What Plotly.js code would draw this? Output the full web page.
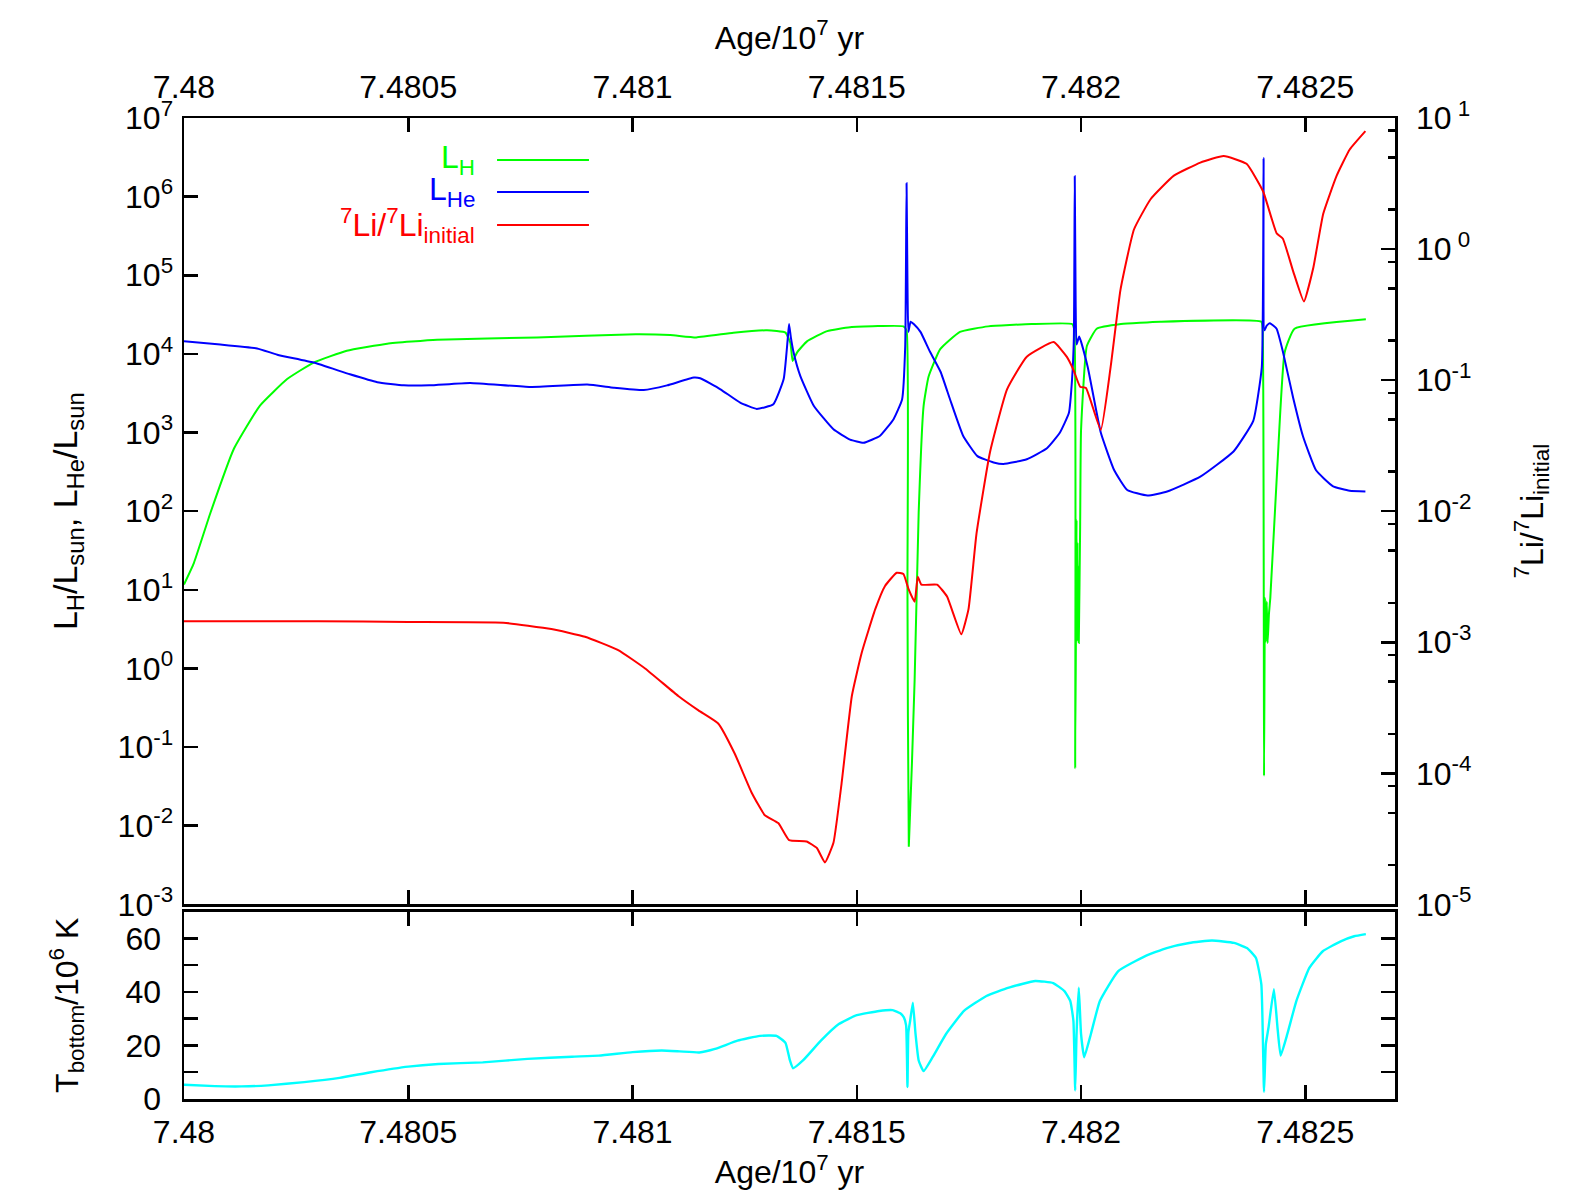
<!DOCTYPE html>
<html>
<head>
<meta charset="utf-8">
<script src="https://cdn.plot.ly/plotly-3.0.1.min.js"></script>
<style>html,body{margin:0;padding:0;background:#fff;}#chart{width:1581px;height:1190px;}</style>
</head>
<body>
<div id="chart"></div>
<script>
// ---- Data (age in 10^7 yr) ----
const ageLH = [7.48,7.480022,7.480059,7.480111,7.480169,7.48023,7.480289,7.480363,7.480453,7.480564,7.480787,7.481007,7.481084,7.481142,7.481225,7.4813,7.481341,7.481352,7.481357,7.481367,7.481389,7.481434,7.481485,7.481604,7.481611,7.481613,7.481616,7.481629,7.481638,7.481649,7.48166,7.481686,7.48173,7.481793,7.48189,7.48198,7.481985,7.481987,7.48199,7.481991,7.481992,7.481993,7.481994,7.481995,7.481998,7.482,7.482013,7.482035,7.482089,7.482177,7.482402,7.482405,7.482408,7.48241,7.482412,7.482414,7.482416,7.482419,7.482422,7.482438,7.482454,7.482476,7.482635];
const lumH = [11.7,21.9,95.5,617,2190,4790,7760,10960,13490,15140,16220,17780,17380,16220,18620,19950,18620,13800,8130,10470,14450,19500,21880,22390,19950,10,0.0054,0.72,95.5,2190,5130,11480,19050,22390,23990,23990,19950,0.054,77.6,2.5,40,2.2,20,2.1,63,1070,12590,20890,23990,25700,25700,19950,0.043,7.9,2.2,7.1,2.1,5,7.9,400,10470,20890,27540];

const ageLHe = [7.48,7.480081,7.480163,7.480208,7.480289,7.48037,7.480431,7.48049,7.480547,7.480638,7.480772,7.480899,7.480958,7.481025,7.481077,7.481137,7.481151,7.481196,7.48124,7.481277,7.481314,7.481337,7.481346,7.481349,7.481353,7.481359,7.481374,7.481404,7.481448,7.481485,7.481515,7.481552,7.481582,7.481601,7.481608,7.481611,7.481613,7.481615,7.48162,7.481627,7.481642,7.481663,7.481687,7.481708,7.481737,7.481769,7.481805,7.481827,7.481879,7.481924,7.481953,7.481973,7.48198,7.481984,7.481986,7.481988,7.48199,7.481996,7.482015,7.482044,7.482074,7.482103,7.482148,7.482192,7.482266,7.48234,7.482384,7.482403,7.482407,7.482409,7.482414,7.482421,7.482436,7.48245,7.482473,7.482495,7.482524,7.482561,7.482599,7.482634];
const lumHe = [14450,13180,11750,9770,7760,5500,4370,3980,3980,4270,3800,4070,3720,3470,3980,5010,4900,3550,2400,2000,2290,4790,15490,23990,16220,10470,5250,2190,1100,813,741,912,1480,2630,12590,1480000,83200,19050,25700,23990,19050,10720,5890,2630,912,501,417,398,457,631,1000,1780,4790,15850,1820000,45700,13180,16600,6760,1000,331,186,158,178,275,575,1410,6760,3090000,19950,22900,24550,20890,10720,2750,891,331,209,182,178];

const ageLi = [7.48,7.4803,7.4805,7.480712,7.480819,7.480894,7.480968,7.481028,7.481102,7.481147,7.481191,7.481228,7.481266,7.481295,7.481325,7.481349,7.481388,7.481411,7.481429,7.481448,7.481466,7.481489,7.481511,7.481541,7.481563,7.481589,7.481604,7.481615,7.481629,7.481636,7.481644,7.481679,7.481701,7.481733,7.481749,7.481767,7.481797,7.481835,7.481879,7.481939,7.481968,7.481983,7.481998,7.482011,7.482044,7.482066,7.482088,7.482118,7.482155,7.482207,7.482266,7.482318,7.482369,7.482406,7.482436,7.48245,7.482473,7.482497,7.482518,7.48254,7.48257,7.482599,7.482634];
const li7 = [1.445e-3,1.445e-3,1.43e-3,1.41e-3,1.26e-3,1.10e-3,8.71e-4,6.31e-4,3.89e-4,3.02e-4,2.40e-4,1.41e-4,7.08e-5,4.79e-5,4.17e-5,3.09e-5,3.02e-5,2.69e-5,2.09e-5,2.95e-5,8.32e-5,3.89e-4,8.32e-4,1.78e-3,2.69e-3,3.39e-3,3.31e-3,2.57e-3,2.04e-3,3.16e-3,2.75e-3,2.75e-3,2.24e-3,1.15e-3,1.78e-3,6.76e-3,0.0282,0.0851,0.151,0.195,0.151,0.120,0.0891,0.0871,0.0417,0.126,0.490,1.41,2.40,3.63,4.57,5.13,4.47,2.75,1.32,1.20,0.676,0.398,0.724,1.86,3.63,5.75,7.94];

const ageT = [7.48,7.480069,7.480128,7.480188,7.480268,7.480347,7.480417,7.4805,7.480567,7.480666,7.480766,7.480865,7.480925,7.481,7.481065,7.481105,7.481149,7.481184,7.481234,7.481284,7.481321,7.481341,7.481351,7.481358,7.48138,7.48142,7.48146,7.4815,7.48155,7.48158,7.481597,7.481605,7.48161,7.481613,7.481615,7.481619,7.481625,7.481631,7.481638,7.481649,7.481669,7.481699,7.481739,7.481789,7.481839,7.481898,7.481938,7.481963,7.481976,7.481983,7.481987,7.48199,7.481995,7.482,7.482007,7.482022,7.482042,7.482083,7.482142,7.482191,7.482241,7.482292,7.482341,7.48237,7.48239,7.482402,7.482408,7.482412,7.482418,7.48243,7.482438,7.482445,7.48246,7.48248,7.482509,7.482539,7.482579,7.482609,7.482635];
const tBottom = [5.3,4.8,4.7,5.1,6.3,7.9,10.0,12.1,13.1,13.7,15.0,15.8,16.2,17.5,18.1,17.8,17.4,18.7,21.8,23.6,23.6,21.0,14.4,11.5,14.4,21.8,28.0,31.3,32.9,33.2,32.0,30.5,27.5,4.5,24.9,29.2,36.0,24.3,14.4,10.4,15.6,24.3,32.9,38.5,41.6,44.1,43.3,40.3,36.6,29.2,3.2,24.3,41.6,24.3,15.6,24.3,36.6,47.8,53.3,56.4,58.3,59.2,58.3,56.4,52.7,42.8,2.6,20.5,26.7,41.0,26.7,16.2,24.3,36.6,49.0,55.2,58.9,60.8,61.6];

// ---- Ticks ----
const xTickVals = [7.48,7.4805,7.481,7.4815,7.482,7.4825];
const xTickText = ["7.48","7.4805","7.481","7.4815","7.482","7.4825"];
const lumTickVals = [1e-3,1e-2,1e-1,1,10,100,1e3,1e4,1e5,1e6,1e7];
const lumTickText = ["10<sup>-3</sup>","10<sup>-2</sup>","10<sup>-1</sup>","10<sup>0</sup>","10<sup>1</sup>","10<sup>2</sup>","10<sup>3</sup>","10<sup>4</sup>","10<sup>5</sup>","10<sup>6</sup>","10<sup>7</sup>"];
const liTickVals = [1e-5,1e-4,1e-3,1e-2,1e-1,1,10];
const liTickText = ["10<sup>-5</sup>","10<sup>-4</sup>","10<sup>-3</sup>","10<sup>-2</sup>","10<sup>-1</sup>","10<sup> 0</sup>","10<sup> 1</sup>"];
const liMinorVals = [2e-5,5e-5,8e-5,2e-4,5e-4,8e-4,2e-3,5e-3,8e-3,2e-2,5e-2,8e-2,0.2,0.5,0.8,2,5,8];
const tTickVals = [0,20,40,60];
const tTickText = ["0","20","40","60"];

// ---- Plot ----
const FONT = "Liberation Sans, Arial, Helvetica, sans-serif";
const fs = 32;
const axBase = {
  showline:true, linecolor:'#000', linewidth:2.5,
  ticks:'inside', ticklen:14, tickwidth:2.5, tickcolor:'#000',
  showgrid:false, zeroline:false,
  tickfont:{family:FONT,size:fs,color:'#000'}
};
const smooth = {shape:'spline', smoothing:0.4};

const traces = [
  {x:ageLH, y:lumH, xaxis:'x2', yaxis:'y', type:'scatter', mode:'lines', line:Object.assign({color:'#00ff00',width:2}, smooth), name:'L_H'},
  {x:ageLHe, y:lumHe, xaxis:'x2', yaxis:'y', type:'scatter', mode:'lines', line:Object.assign({color:'#0000ff',width:2}, smooth), name:'L_He'},
  {x:ageLi, y:li7, xaxis:'x2', yaxis:'y2', type:'scatter', mode:'lines', line:Object.assign({color:'#ff0000',width:2}, smooth), name:'Li'},
  {x:ageT, y:tBottom, xaxis:'x', yaxis:'y3', type:'scatter', mode:'lines', line:Object.assign({color:'#00ffff',width:2.4}, smooth), name:'T'}
];

const xRange = [7.48, 7.4827];
const legY = [0.9572, 0.9246, 0.8909];
const legColors = ['#00ff00','#0000ff','#ff0000'];
const legTexts = ['L<sub>H</sub>','L<sub>He</sub>','<sup>7</sup>Li/<sup>7</sup>Li<sub>initial</sub>'];

const layout = {
  width:1581, height:1190,
  margin:{l:184, r:186, t:118, b:91, autoexpand:false},
  paper_bgcolor:'#fff', plot_bgcolor:'rgba(0,0,0,0)',
  showlegend:false,
  font:{family:FONT, size:fs, color:'#000'},
  xaxis: Object.assign({}, axBase, {
    anchor:'y3', domain:[0,1], range:xRange, tickmode:'array', tickvals:xTickVals, ticktext:xTickText,
    mirror:'ticks', ticklabelstandoff:3,
    title:{text:'Age/10<sup>7</sup> yr', font:{family:FONT,size:fs,color:'#000'}, standoff:46}
  }),
  xaxis2: Object.assign({}, axBase, {
    anchor:'y', side:'top', domain:[0,1], range:xRange, tickmode:'array', tickvals:xTickVals, ticktext:xTickText,
    mirror:'ticks', ticklabelstandoff:5,
    title:{text:'Age/10<sup>7</sup> yr', font:{family:FONT,size:fs,color:'#000'}, standoff:10}
  }),
  yaxis: Object.assign({}, axBase, {
    anchor:'x2', domain:[0.1984,1], type:'log', range:[-3,7], tickmode:'array', tickvals:lumTickVals, ticktext:lumTickText,
    mirror:false, ticklabelstandoff:2,
    title:{text:'L<sub>H</sub>/L<sub>sun</sub>, L<sub>He</sub>/L<sub>sun</sub>', font:{family:FONT,size:34,color:'#000'}, standoff:30}
  }),
  yaxis2: Object.assign({}, axBase, {
    anchor:'x2', overlaying:'y', side:'right', type:'log', range:[-5,1], tickmode:'array', tickvals:liTickVals, ticktext:liTickText,
    ticklabelstandoff:12,
    minor:{tickmode:'array', tickvals:liMinorVals, ticks:'inside', ticklen:7, tickwidth:2.5, tickcolor:'#000', showgrid:false},
    title:{text:'<sup>7</sup>Li/<sup>7</sup>Li<sub>initial</sub>', font:{family:FONT,size:fs,color:'#000'}, standoff:50}
  }),
  yaxis3: Object.assign({}, axBase, {
    anchor:'x', domain:[0,0.191], range:[0,70], tickmode:'array', tickvals:tTickVals, ticktext:tTickText,
    mirror:'ticks', ticklabelstandoff:14,
    minor:{dtick:10, tick0:0, ticks:'inside', ticklen:14, tickwidth:2.5, tickcolor:'#000', showgrid:false},
    title:{text:'T<sub>bottom</sub>/10<sup>6</sup> K', font:{family:FONT,size:fs,color:'#000'}, standoff:38}
  }),
  annotations: legTexts.map((t,i)=>({
    text:t, xref:'paper', yref:'paper', x:0.2419, y:legY[i], xanchor:'right', yanchor:'middle',
    showarrow:false, font:{family:FONT,size:32,color:legColors[i]}
  })),
  shapes: legColors.map((c,i)=>({
    type:'line', xref:'paper', yref:'paper', x0:0.2585, x1:0.3344, y0:legY[i], y1:legY[i],
    line:{color:c, width:2}
  }))
};

Plotly.newPlot('chart', traces, layout, {staticPlot:true, displayModeBar:false});
</script>
</body>
</html>
